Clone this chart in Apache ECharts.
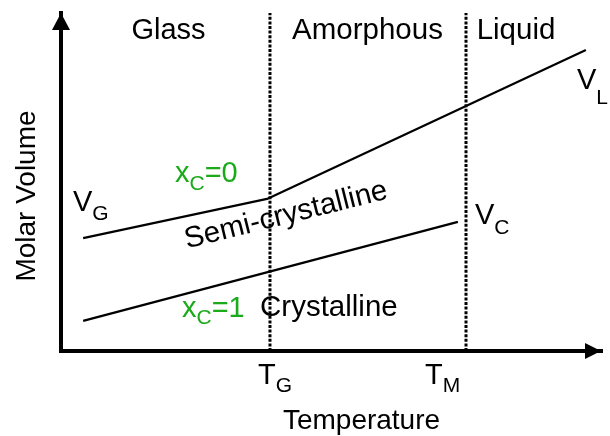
<!DOCTYPE html>
<html><head><meta charset="utf-8">
<script src="https://cdn.jsdelivr.net/npm/echarts@6/dist/echarts.min.js"></script>
<style>html,body{margin:0;padding:0;background:#fff}#c{width:610px;height:436px}</style>
</head><body><div id="c"></div>
<script>
// ---- data ----
const regions = ['Glass', 'Amorphous', 'Liquid'];
const transitionTemps = [38.7, 75.0];           // T_G, T_M (axis units)
const tickLabels = [['T', 'G'], ['T', 'M']];
const liquidGlassT = [4.1, 38.15, 97.2];         // V_G -> kink at T_G -> V_L
const liquidGlassV = [33.4, 45.0, 89.05];
const crystalT = [4.1, 73.5];                    // crystalline line up to V_C
const crystalV = [8.9, 38.2];
const axisTitles = ['Temperature', 'Molar Volume'];

// ---- helpers ----
const FONT = '"Liberation Sans", Arial, Helvetica, sans-serif';
const MAIN = 28, SUB = 21;
const GREEN = '#1aaa1a';
const ctx = document.createElement('canvas').getContext('2d');
function tw(t, fs) { ctx.font = fs + 'px ' + FONT; return ctx.measureText(t).width; }
function label(parts, x, base, o) {
  o = o || {};
  const drop = o.drop == null ? 8 : o.drop;
  const fill = o.fill || '#000';
  const mfs = o.fs || MAIN, sfs = o.sfs || SUB;
  let total = 0;
  parts.forEach(p => { total += tw(p[0], p[1] ? sfs : mfs); });
  let cx = o.center ? x - total / 2 : x;
  return parts.map(p => {
    const fs = p[1] ? sfs : mfs;
    const by = base + (p[1] ? drop : 0);
    const el = {
      type: 'text', silent: true, z: 100,
      style: { text: p[0], x: cx, y: by - 0.31 * fs, font: fs + 'px ' + FONT, fill: fill,
        align: 'left', verticalAlign: 'middle', textAlign: 'left', textVerticalAlign: 'middle' }
    };
    cx += tw(p[0], fs);
    return el;
  });
}
function rotText(text, x, y, rot, fs) {
  return { type: 'text', silent: true, z: 100, x: x, y: y, rotation: rot,
    style: { text: text, x: 0, y: 0, font: (fs || MAIN) + 'px ' + FONT, fill: '#000',
      align: 'center', verticalAlign: 'middle', textAlign: 'center', textVerticalAlign: 'middle' } };
}
const zip = (a, b) => a.map((v, i) => [v, b[i]]);

const BIG = 29.5;
const graphics = [].concat(
  label([[regions[0]]], 168.5, 40, { center: true, fs: 29 }),
  label([[regions[1]]], 367.5, 40, { center: true, fs: BIG }),
  label([[regions[2]]], 516, 40, { center: true, fs: BIG }),
  label([[axisTitles[0]]], 361.5, 430, { center: true }),
  label([['V'], ['G', 1]], 73, 212, { drop: 9, fs: 29 }),
  label([['x'], ['C', 1], ['=0']], 175, 183, { drop: 8, fill: GREEN, fs: 29 }),
  label([['V'], ['C', 1]], 475, 225, { drop: 10, fs: 29 }),
  label([['V'], ['L', 1]], 577, 90, { drop: 15, fs: 29 }),
  label([['x'], ['C', 1], ['=1']], 182, 318, { drop: 7, fill: GREEN, fs: 29 }),
  label([['Crystalline']], 260, 317, { fs: BIG }),
  label([[tickLabels[0][0]], [tickLabels[0][1], 1]], 258, 385, { drop: 8, fs: 29 }),
  label([[tickLabels[1][0]], [tickLabels[1][1], 1]], 425, 385, { drop: 8, fs: 29 }),
  [rotText(axisTitles[1], 27, 196, Math.PI / 2),
   rotText('Semi-crystalline', 286, 215.5, 14 * Math.PI / 180, BIG)]
);

function axisLine(size) {
  return { show: true, symbol: ['none', 'triangle'], symbolSize: size, symbolOffset: [0, -size[1] / 2],
    lineStyle: { color: '#000', width: 4, cap: 'square' } };
}
const chart = echarts.init(document.getElementById('c'), null, { renderer: 'canvas' });
chart.setOption({
  animation: false,
  backgroundColor: '#fff',
  grid: { left: 61, right: 9, top: 13, bottom: 85 },
  xAxis: { type: 'value', min: 0, max: 100, axisLine: axisLine([16, 16]),
    axisTick: { show: false }, axisLabel: { show: false }, splitLine: { show: false } },
  yAxis: { type: 'value', min: 0, max: 100, axisLine: axisLine([18, 17]),
    axisTick: { show: false }, axisLabel: { show: false }, splitLine: { show: false } },
  series: [
    { type: 'line', data: zip(liquidGlassT, liquidGlassV), showSymbol: false, silent: true,
      lineStyle: { color: '#000', width: 2.2 }, z: 3 },
    { type: 'line', data: zip(crystalT, crystalV), showSymbol: false, silent: true,
      lineStyle: { color: '#000', width: 2.2 }, z: 3 },
  ].concat(transitionTemps.map(t => ({
    type: 'line', data: [[t, 0], [t, 100]], showSymbol: false, silent: true, z: 4,
    lineStyle: { color: '#000', width: 3, type: [3, 1.6], cap: 'butt' }
  }))),
  graphic: graphics
});
</script></body></html>
